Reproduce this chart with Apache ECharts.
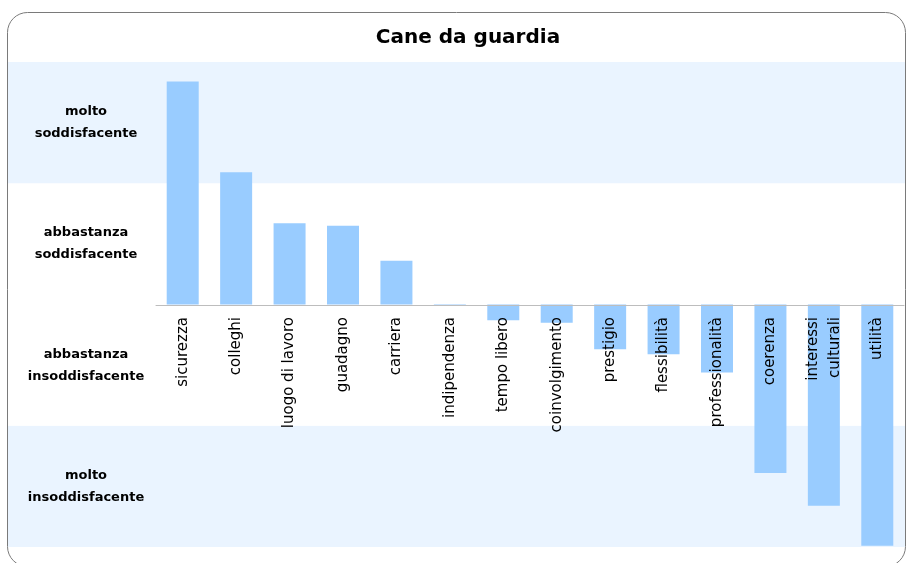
<!DOCTYPE html>
<html lang="it">
<head>
<meta charset="UTF-8">
<title>Cane da guardia</title>
<script src="https://cdn.jsdelivr.net/npm/echarts@6/dist/echarts.min.js"></script>
</head>
<body style="margin:0;background:#fff">
<div id="dv" style="width:910px;height:563px;"></div>
<script>
var categories = ['sicurezza', 'colleghi', 'luogo di lavoro', 'guadagno', 'carriera', 'indipendenza', 'tempo libero',
    'coinvolgimento', 'prestigio', 'flessibilità', 'professionalità', 'coerenza', 'interessi\nculturali', 'utilità']
var values = [1.84, 1.09, 0.67, 0.65, 0.36, -0.01, -0.13, -0.15, -0.37, -0.41, -0.56, -1.39, -1.66, -1.99]
var bandTicks = [1.5, 0.5, -0.5, -1.5]
var bandLabels = ['molto\nsoddisfacente', 'abbastanza\nsoddisfacente', 'abbastanza\ninsoddisfacente', 'molto\ninsoddisfacente']

var myChart = echarts.init(document.getElementById('dv'))

var option = {
    animation: false,
    title: {
        text: 'Cane da guardia',
        left: 463,
        top: 23,
        textAlign: 'center',
        textStyle: { fontFamily: 'DejaVu Sans', fontWeight: 'bold', fontSize: 20, color: '#000' }
    },
    graphic: [{
        type: 'rect',
        z: 100,
        shape: { x: 7.5, y: 12.5, width: 898, height: 554, r: 20 },
        style: { fill: 'none', stroke: '#7a7a7a', lineWidth: 1 }
    }],
    grid: [
        // band background, full width
        { left: 8, right: 5, top: 62, bottom: 16, outerBoundsMode: 'none' },
        // bars
        { left: 156, right: 6, top: 62, bottom: 16, outerBoundsMode: 'none' }
    ],
    xAxis: [{
        gridIndex: 0, type: 'value', min: 0, max: 1, show: false
    }, {
        gridIndex: 1,
        type: 'category',
        data: categories,
        position: 'bottom',
        z: 5,
        // move the whole axis (line + labels) up to the zero line
        offset: -242,
        axisLine: { onZero: false, lineStyle: { color: '#bdbdbd', width: 1 } },
        axisTick: { show: false },
        axisLabel: {
            interval: 0, rotate: 90, margin: 12,
            fontFamily: 'DejaVu Sans', fontSize: 15, color: '#000', lineHeight: 22
        }
    }],
    yAxis: [{
        gridIndex: 0, type: 'value', min: -2, max: 2, interval: 1,
        axisLine: { show: false }, axisTick: { show: false }, axisLabel: { show: false },
        splitLine: { show: false },
        splitArea: { show: true, areaStyle: { color: ['#eaf4ff', '#ffffff', '#ffffff', '#eaf4ff'] } }
    }, {
        gridIndex: 1, type: 'value', min: -2, max: 2, interval: 0.5,
        axisLine: { show: false }, axisTick: { show: false }, splitLine: { show: false },
        axisLabel: {
            margin: 70, align: 'center', lineHeight: 22,
            fontFamily: 'DejaVu Sans', fontWeight: 'bold', fontSize: 13, color: '#000',
            formatter: function (v) {
                var i = bandTicks.indexOf(v)
                return i < 0 ? '' : bandLabels[i]
            }
        }
    }],
    series: [{
        type: 'bar',
        xAxisIndex: 1,
        yAxisIndex: 1,
        barWidth: 32,
        itemStyle: { color: '#99ccff' },
        data: values
    }]
}
myChart.setOption(option)
</script>
</body>
</html>
